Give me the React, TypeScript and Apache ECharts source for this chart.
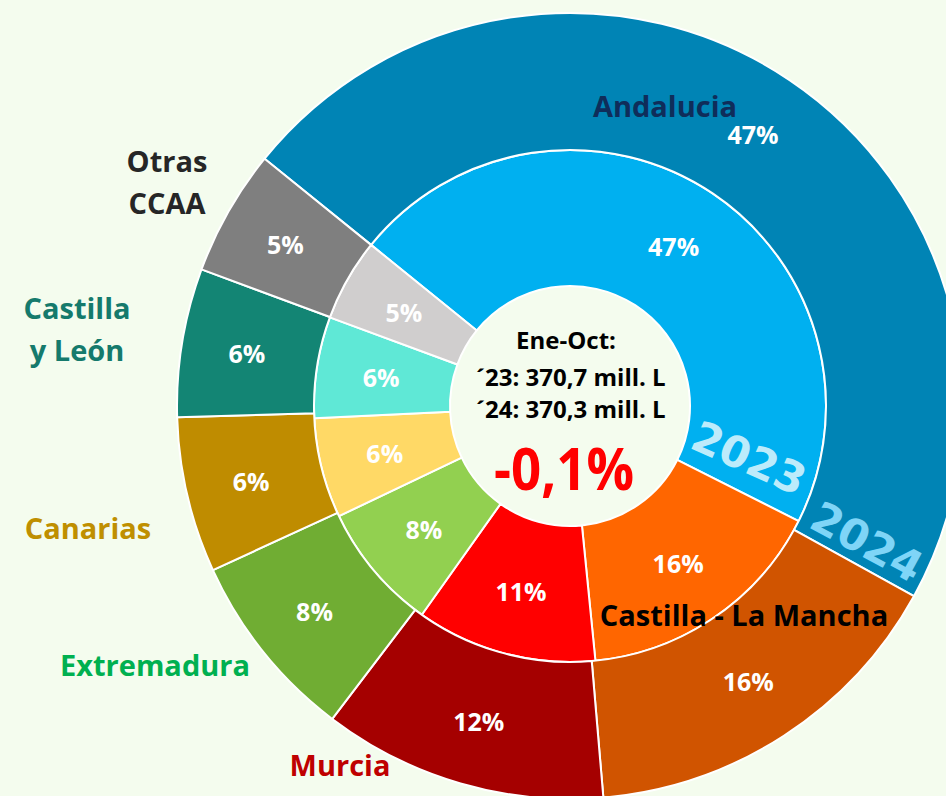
import React, { useEffect, useRef } from "react";
import * as echarts from "echarts";

// ---- data ----
const regions = [
  "Andalucia",
  "Castilla - La Mancha",
  "Murcia",
  "Extremadura",
  "Canarias",
  "Castilla y León",
  "Otras CCAA",
];
// million litres, Jan-Oct
const volumes2023 = [172.7, 59.3, 42.3, 30.0, 23.4, 23.7, 19.3];
const volumes2024 = [174.8, 57.8, 43.3, 28.9, 23.7, 22.6, 19.2];
const totals = [370.7, 370.3];
const yearLabels = ["2023", "2024"];
const periodLabel = "Ene-Oct:";

const colors2023 = ["#00B0F0", "#FF6600", "#FF0000", "#92D050", "#FFD966", "#5FE8D6", "#D0CECE"];
const colors2024 = ["#0084B5", "#D05400", "#A50000", "#70AD33", "#BF8C00", "#138574", "#7F7F7F"];

const FONT = "'Open Sans', 'Noto Sans', sans-serif";
const YEAR_FONT = "'DejaVu Sans', 'Open Sans', sans-serif";
const BG = "#F4FCEE";

const fmtNum = (v: number) => v.toFixed(1).replace(".", ",");

export default function App() {
  const ref = useRef<HTMLDivElement>(null);
  useEffect(() => {
    if (!ref.current) return;
    const chart = echarts.init(ref.current, null, { renderer: "svg" });
    const cx = 570;
    const cy = 406;
    const change = ((totals[1] - totals[0]) / totals[0]) * 100;
    const changeText = (change > 0 ? "+" : "") + fmtNum(change) + "%";

    const pieBase = {
      type: "pie" as const,
      center: [cx, cy],
      startAngle: 141,
      clockwise: true,
      silent: true,
      avoidLabelOverlap: false,
      labelLine: { show: false },
      itemStyle: { borderColor: "#FFFFFF", borderWidth: 2 },
      label: {
        show: true,
        position: "inside" as const,
        formatter: (p: any) => Math.round(p.percent) + "%",
        color: "#FFFFFF",
        fontFamily: FONT,
        fontWeight: "bold" as const,
        fontSize: 25,
      },
    };

    const textEl = (
      text: string,
      x: number,
      y: number,
      fill: string,
      size: number,
      extra: any = {},
      family: string = FONT
    ) => ({
      type: "text",
      x,
      y,
      z: 100,
      silent: true,
      ...extra,
      style: {
        text,
        fill,
        font: `bold ${size}px ${family}`,
        textAlign: "center",
        textVerticalAlign: "middle",
        lineHeight: 42,
      },
    });

    chart.setOption({
      animation: false,
      backgroundColor: BG,
      series: [
        {
          ...pieBase,
          name: yearLabels[0],
          radius: [120, 256],
          data: regions.map((r, i) => ({
            name: r,
            value: volumes2023[i],
            itemStyle: { color: colors2023[i] },
          })),
        },
        {
          ...pieBase,
          name: yearLabels[1],
          radius: [256, 393],
          data: regions.map((r, i) => ({
            name: r,
            value: volumes2024[i],
            itemStyle: { color: colors2024[i] },
          })),
        },
      ],
      graphic: [
        // year tags
        textEl(yearLabels[0], 749, 458, "#BDEBFB", 43, { rotation: -0.42 }, YEAR_FONT),
        textEl(yearLabels[1], 867, 542, "#7FD5F7", 43, { rotation: -0.5 }, YEAR_FONT),
        // region names
        textEl(regions[0], 665, 105, "#0F2D5A", 29),
        textEl(regions[1], 744, 614, "#000000", 29),
        textEl(regions[2], 340, 764, "#BF0000", 29),
        textEl(regions[3], 155, 664, "#00B050", 29),
        textEl(regions[4], 88, 527, "#BF8F00", 29),
        textEl("Castilla\ny León", 77, 328, "#157A6C", 29),
        textEl("Otras\nCCAA", 167, 181, "#262626", 29),
        // centre texts
        textEl(periodLabel, 566, 339, "#000000", 24),
        textEl("´23: " + fmtNum(totals[0]) + " mill. L", 571, 376, "#000000", 24),
        textEl("´24: " + fmtNum(totals[1]) + " mill. L", 571, 408, "#000000", 24),
        textEl(changeText, 564, 467, "#FF0000", 60, { scaleX: 0.88 }),
      ],
    });
    return () => chart.dispose();
  }, []);
  return (
    <div
      ref={ref}
      style={{ position: "absolute", left: 0, top: 0, width: 946, height: 796 }}
    />
  );
}
